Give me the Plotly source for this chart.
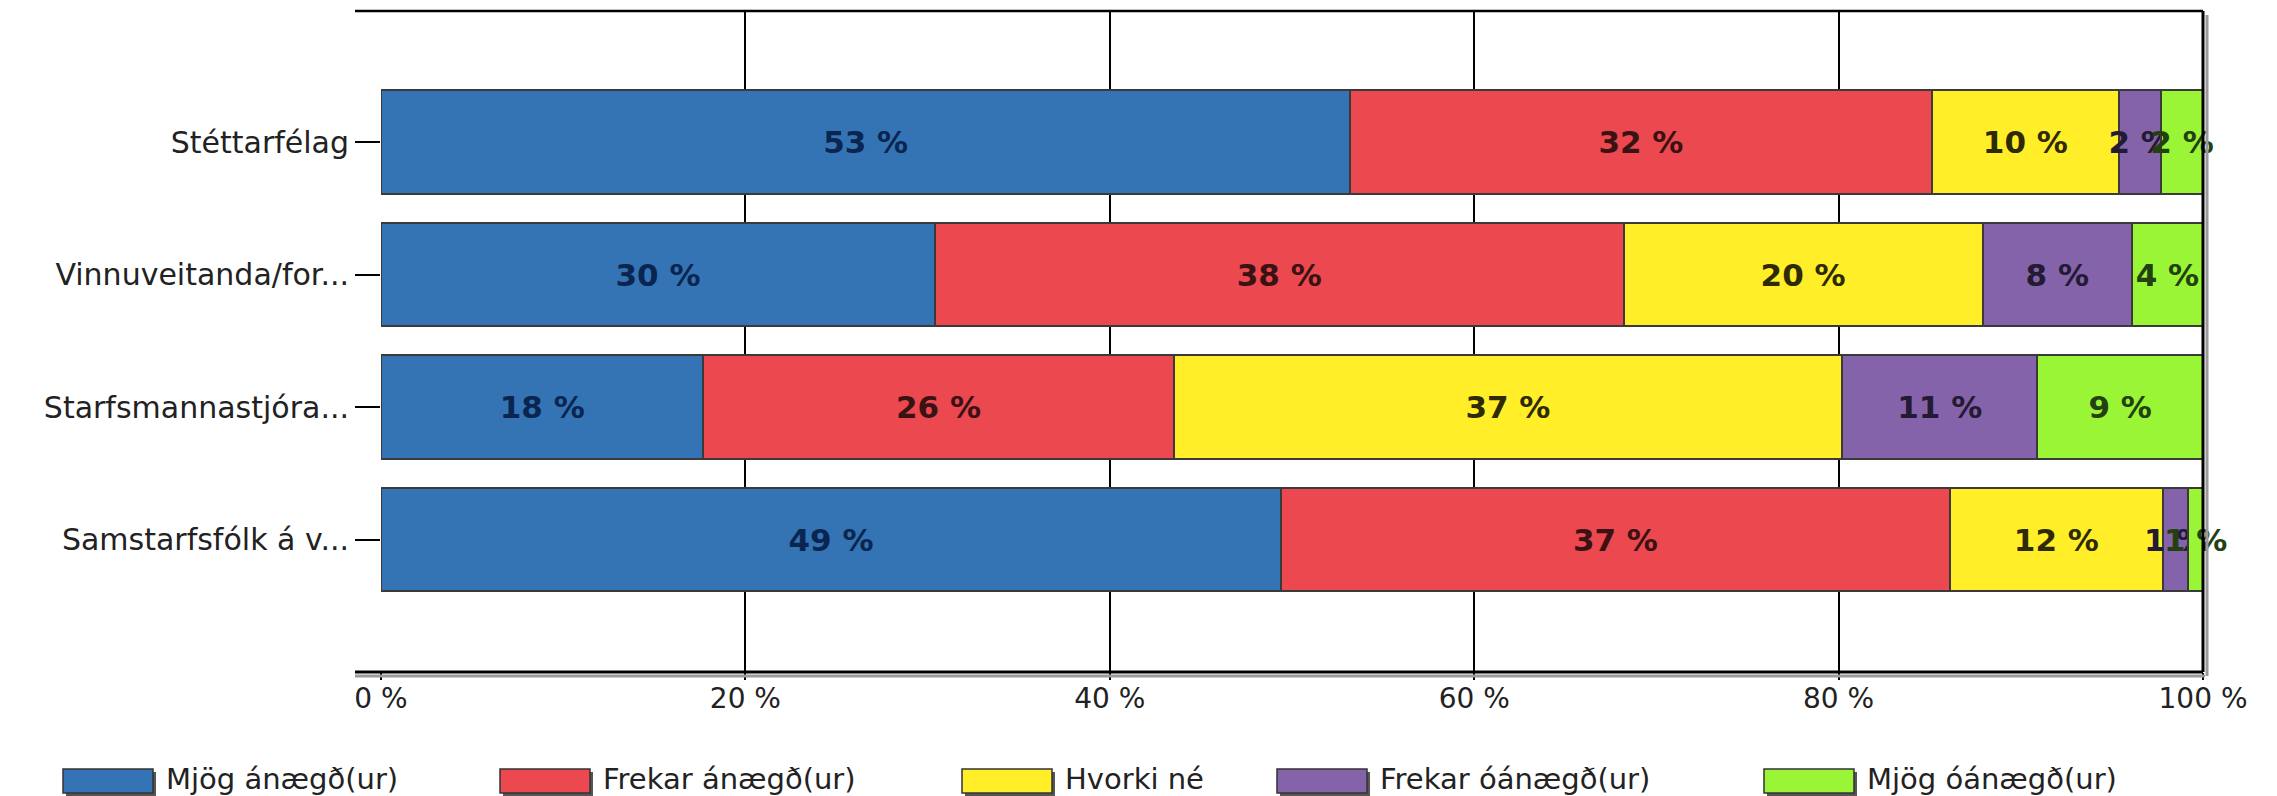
import plotly.graph_objects as go

# ---------------- data ----------------
categories = ["Stéttarfélag", "Vinnuveitanda/for...", "Starfsmannastjóra...", "Samstarfsfólk á v..."]
series_names = ["Mjög ánægð(ur)", "Frekar ánægð(ur)", "Hvorki né", "Frekar óánægð(ur)", "Mjög óánægð(ur)"]
mjog_anaegd = [53.2, 30.4, 17.7, 49.4]
frekar_anaegd = [31.9, 37.8, 25.8, 36.7]
hvorki_ne = [10.3, 19.7, 36.7, 11.7]
frekar_oanaegd = [2.3, 8.2, 10.7, 1.4]
mjog_oanaegd = [2.3, 3.9, 9.1, 0.8]
x_ticks = [0, 20, 40, 60, 80, 100]
x_tick_labels = ["0 %", "20 %", "40 %", "60 %", "80 %", "100 %"]

series_values = [mjog_anaegd, frekar_anaegd, hvorki_ne, frekar_oanaegd, mjog_oanaegd]

# ---------------- style ----------------
colors = ["#3474B5", "#EB4850", "#FFEE28", "#8563AA", "#9BF537"]
text_colors = ["#0A2650", "#3B1214", "#2E2A05", "#231A33", "#234010"]
FONT = "DejaVu Sans"

W, H = 2277, 796
L, R, T, B = 381, 2203, 11, 672
PW, PH = R - L, B - T


def px_x(x):
    return (x - L) / PW


def px_y(y):
    return (B - y) / PH


fig = go.Figure()
for name, vals, col, tcol in zip(series_names, series_values, colors, text_colors):
    fig.add_trace(go.Bar(
        name=name,
        y=categories,
        x=vals,
        orientation="h",
        marker=dict(color=col, line=dict(color="#3a3a3a", width=2)),
        texttemplate="%{x:.0f} %",
        textposition="inside",
        insidetextanchor="middle",
        textangle=0,
        constraintext="none",
        cliponaxis=False,
        textfont=dict(family=FONT, size=31, color=tcol, weight="bold"),
        hoverinfo="skip",
    ))

shapes = []
# frame lines (top, bottom axis with shadow, right border with shadow)
shapes.append(dict(type="line", xref="paper", yref="paper", x0=px_x(L - 26), x1=1, y0=1, y1=1,
                   line=dict(color="black", width=2.5), layer="above"))
shapes.append(dict(type="line", xref="paper", yref="paper", x0=px_x(L - 26), x1=px_x(R + 2), y0=px_y(B + 4), y1=px_y(B + 4),
                   line=dict(color="#9a9a9a", width=3), layer="above"))
shapes.append(dict(type="line", xref="paper", yref="paper", x0=px_x(L - 26), x1=1, y0=0, y1=0,
                   line=dict(color="black", width=3), layer="above"))
shapes.append(dict(type="line", xref="paper", yref="paper", x0=px_x(R + 4), x1=px_x(R + 4), y0=px_y(T + 4), y1=px_y(B + 4),
                   line=dict(color="#9a9a9a", width=3), layer="above"))
shapes.append(dict(type="line", xref="paper", yref="paper", x0=1, x1=1, y0=0, y1=1,
                   line=dict(color="black", width=3), layer="above"))

# custom legend (wide swatches, like the original)
legend_x = [63, 500, 962, 1277, 1764]
annotations = []
for lx, name, col in zip(legend_x, series_names, colors):
    shapes.append(dict(type="rect", xref="paper", yref="paper",
                       x0=px_x(lx + 3), x1=px_x(lx + 93), y0=px_y(772), y1=px_y(796),
                       fillcolor="#555555", line=dict(width=0)))
    shapes.append(dict(type="rect", xref="paper", yref="paper",
                       x0=px_x(lx), x1=px_x(lx + 90), y0=px_y(769), y1=px_y(793),
                       fillcolor=col, line=dict(color="#333333", width=1.5)))
    annotations.append(dict(xref="paper", yref="paper", x=px_x(lx + 101), y=px_y(779),
                            text=name, showarrow=False, xanchor="left", yanchor="middle",
                            font=dict(family=FONT, size=29, color="#222222")))

fig.update_layout(
    width=W, height=H,
    margin=dict(l=L, r=W - R, t=T, b=H - B, pad=0),
    plot_bgcolor="white", paper_bgcolor="white",
    barmode="stack", bargap=0.22,
    showlegend=False,
    uniformtext=dict(minsize=31, mode="show"),
    shapes=shapes, annotations=annotations,
)
fig.update_xaxes(range=[0, 100], tickvals=x_ticks, ticktext=x_tick_labels,
                 showgrid=True, gridcolor="black", gridwidth=2, zeroline=False,
                 ticks="outside", ticklen=7, tickwidth=2, tickcolor="black",
                 ticklabelstandoff=-6,
                 tickfont=dict(family=FONT, size=28, color="#222222"), showline=False)
fig.update_yaxes(categoryorder="array", categoryarray=categories, range=[4.0, -0.99],
                 ticks="outside", ticklen=25, tickwidth=2, tickcolor="black",
                 tickfont=dict(family=FONT, size=30, color="#222222"),
                 showgrid=False, zeroline=False, showline=False)

fig.write_html("out.html", config={"displayModeBar": False},
               post_script="document.body.style.margin='0px';document.body.style.overflow='hidden';")
